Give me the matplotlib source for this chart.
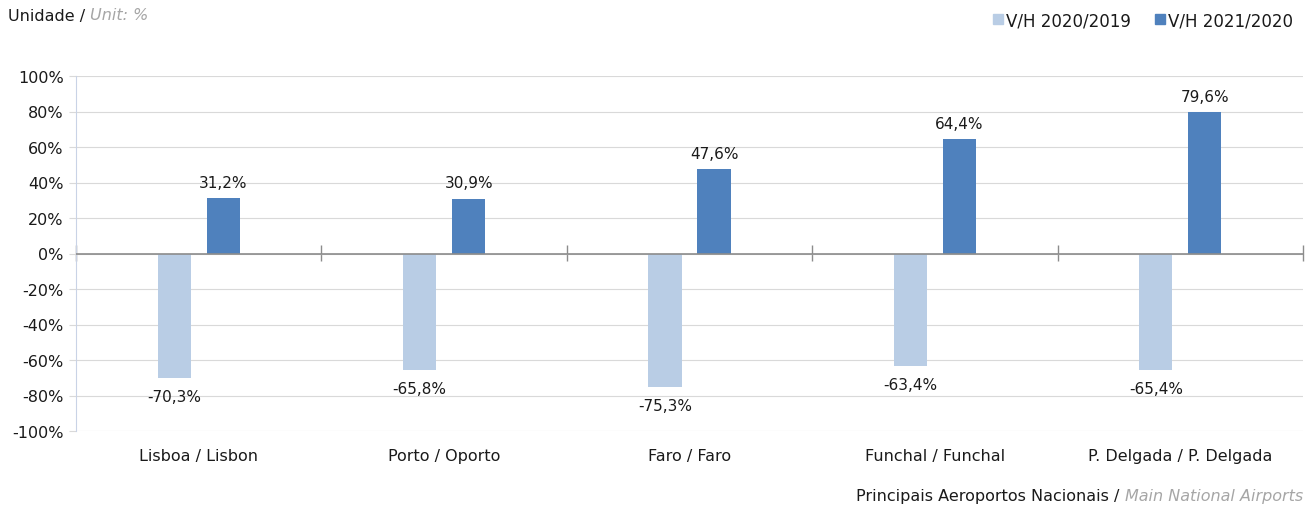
import matplotlib

matplotlib.use("Agg")
import matplotlib.pyplot as plt
import numpy as np
from matplotlib.patches import Patch
from matplotlib.ticker import FuncFormatter

airports = ["Lisboa / Lisbon", "Porto / Oporto", "Faro / Faro",
            "Funchal / Funchal", "P. Delgada / P. Delgada"]
var_2020_2019 = [-70.3, -65.8, -75.3, -63.4, -65.4]
var_2021_2020 = [31.2, 30.9, 47.6, 64.4, 79.6]
series_names = ["V/H 2020/2019", "V/H 2021/2020"]
y_ticks = [-100, -80, -60, -40, -20, 0, 20, 40, 60, 80, 100]

_LIGHT = "#b9cde5"
_DARK = "#4f81bd"
_TEXT = "#1a1a1a"
_MUTED = "#a6a6a6"
_GRID = "#d9d9d9"
_ZERO = "#8c8c8c"

plt.rcParams["font.family"] = ["DejaVu Sans"]

fig = plt.figure(figsize=(13.08, 5.06), dpi=100)
ax = fig.add_axes([76 / 1308, 1 - 432 / 506, 1227 / 1308, 355 / 506])

x = np.arange(len(airports))
width = 0.135
offset = 0.1
bars_a = ax.bar(x - offset, var_2020_2019, width, color=_LIGHT, zorder=3)
bars_b = ax.bar(x + offset, var_2021_2020, width, color=_DARK, zorder=3)

fmt = lambda v: f"{v:.1f}%".replace(".", ",")
ax.bar_label(bars_a, labels=[fmt(v) for v in var_2020_2019], padding=8,
             fontsize=11, color=_TEXT)
ax.bar_label(bars_b, labels=[fmt(v) for v in var_2021_2020], padding=6,
             fontsize=11, color=_TEXT)

ax.set_xlim(-0.5, len(airports) - 0.5)
ax.set_ylim(-100, 100)
ax.set_yticks(y_ticks)
ax.yaxis.set_major_formatter(FuncFormatter(lambda v, _: f"{v:.0f}%"))
ax.tick_params(axis="y", length=5, color=_GRID, labelsize=11.5, labelcolor=_TEXT, pad=4)
ax.grid(axis="y", color=_GRID, linewidth=0.8, zorder=0)

ax.set_xticks(x, airports)
ax.tick_params(axis="x", length=0, labelsize=11.5, labelcolor=_TEXT, pad=12)

for name in ("top", "right", "bottom"):
    ax.spines[name].set_visible(False)
ax.spines["left"].set_color("#c9d3e6")

# zero line with category separators
ax.axhline(0, color=_ZERO, linewidth=1.2, zorder=4)
zero_axis = ax.secondary_xaxis(0.5)
zero_axis.set_xticks(np.arange(len(airports) + 1) - 0.5)
zero_axis.set_xticklabels([])
zero_axis.tick_params(direction="inout", length=11, color=_ZERO, width=1)
for spine in zero_axis.spines.values():
    spine.set_visible(False)

handles = [Patch(color=_LIGHT), Patch(color=_DARK)]
fig.legend(handles, series_names, loc="center right", bbox_to_anchor=(1.0, 1 - 21 / 506),
           ncol=2, frameon=False, handlelength=0.6, handleheight=0.6,
           handletextpad=0.2, columnspacing=1.4, fontsize=12, labelcolor=_TEXT)

t = fig.text(8 / 1308, 1 - 16 / 506, "Unidade / ", fontsize=11.5, color=_TEXT,
             ha="left", va="center")
fig.canvas.draw()
bb = t.get_window_extent()
fig.text(bb.x1 / 1308, 1 - 16 / 506, "Unit: %", fontsize=11.5, color=_MUTED,
         style="italic", ha="left", va="center")

t2 = fig.text(1303 / 1308, 1 - 497 / 506, "Main National Airports", fontsize=11.5,
              color=_MUTED, style="italic", ha="right", va="center")
fig.canvas.draw()
bb2 = t2.get_window_extent()
fig.text(bb2.x0 / 1308, 1 - 497 / 506, "Principais Aeroportos Nacionais / ",
         fontsize=11.5, color=_TEXT, ha="right", va="center")

fig.savefig("out.png", dpi=100, facecolor="white")
